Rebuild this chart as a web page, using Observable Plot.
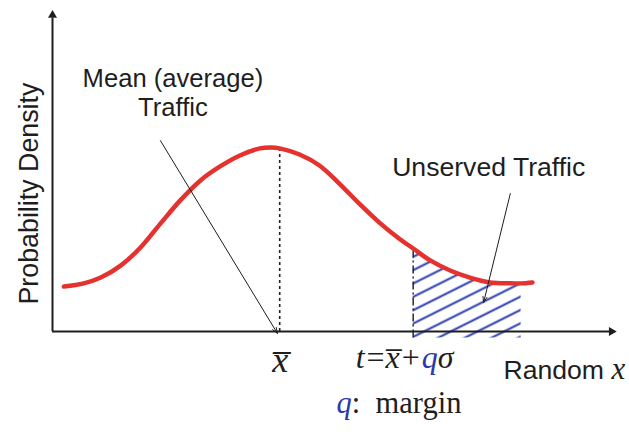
<!DOCTYPE html>
<html>
<head>
<meta charset="utf-8">
<script src="https://cdn.jsdelivr.net/npm/d3@7"></script>
<script src="https://cdn.jsdelivr.net/npm/@observablehq/plot@0.6"></script>
<style>
  body { margin: 0; background: #fff; }
  #chart svg { display: block; }
</style>
</head>
<body>
<div id="chart"></div>
<script>
// Density curve samples (arbitrary units: x along the random variable, y = density)
const curveX = [2, 5.5, 8.5, 12, 15.5, 19, 22.5, 26, 29.5, 33, 36.5, 38.5, 40, 43.5, 47, 50.5, 54, 57.5, 61, 63.5, 66.5, 70, 73.5, 77, 80.5, 82.5, 84.5];
const curveY = [13.9, 14.9, 16.7, 20.4, 26.0, 33.4, 40.6, 46.7, 51.1, 54.5, 56.7, 57.0, 56.7, 54.8, 51.4, 45.8, 39.6, 33.8, 28.8, 25.7, 22.0, 18.9, 16.7, 15.2, 14.9, 14.9, 15.2];

// Key positions on the x axis
const meanX = 40;        // x̄
const thresholdX = 63.5; // t = x̄ + qσ
const tailEndX = 82.5;   // end of the shaded tail
const tailFloor = -2;    // hatching runs just under the axis

// Axis extents
const axisEndX = 99.6;
const axisEndY = 100;

const curve = curveX.map((x, i) => ({x, y: curveY[i]}));
const yAt = (x) => curve.find(d => d.x === x).y;
const tail = curve.filter(d => d.x >= thresholdX && d.x <= tailEndX);

const INK = "#1e1e1e";
const RED = "#e6322f";
const BLUE = "#2a3aae";
const SANS = "'Liberation Sans', Arial, Helvetica, sans-serif";
const SERIF = "'Liberation Serif', 'Times New Roman', serif";

const FORMULA = "t=x\u0305+q\u03c3";

// Diagonal hatch pattern for the unserved tail
function hatchDefs() {
  const defs = d3.create("svg:defs");
  const p = defs.append("pattern")
    .attr("id", "hatch")
    .attr("patternUnits", "userSpaceOnUse")
    .attr("width", 12)
    .attr("height", 11.94)
    .attr("patternTransform", "rotate(-26.565)");
  p.append("line")
    .attr("x1", -1).attr("x2", 13)
    .attr("y1", 8.5).attr("y2", 8.5)
    .attr("stroke", BLUE)
    .attr("stroke-width", 2);
  return defs.node();
}

const chart = Plot.plot({
  width: 629,
  height: 438,
  marginLeft: 52,
  marginRight: 9,
  marginTop: 8,
  marginBottom: 107,
  x: {domain: [0, 100], axis: null},
  y: {domain: [0, 100], axis: null},
  style: {background: "#fff", overflow: "visible"},
  marks: [
    hatchDefs,
    // shaded tail (unserved traffic)
    Plot.areaY(tail, {x: "x", y1: tailFloor, y2: "y", fill: "url(#hatch)", curve: "catmull-rom"}),
    // axes with arrowheads
    Plot.ruleX([0], {y1: 0, y2: axisEndY - 3, stroke: INK, strokeWidth: 2}),
    Plot.ruleY([0], {x1: 0, x2: axisEndX - 1.5, stroke: INK, strokeWidth: 2}),
    Plot.dot([0], {x: 0, y: axisEndY, symbol: "triangle2", r: 4.3, fill: INK, dy: 6.7}),
    Plot.dot([0], {x: axisEndX, y: 0, symbol: "triangle2", r: 4.3, fill: INK, rotate: 90, dx: -6.7}),
    // mean: dotted drop line
    Plot.ruleX([meanX], {y1: 0, y2: yAt(meanX), stroke: INK, strokeWidth: 1.6, strokeDasharray: "3,3"}),
    // threshold: dash-dot line
    Plot.ruleX([thresholdX], {y1: tailFloor, y2: yAt(thresholdX), stroke: INK, strokeWidth: 1.4, strokeDasharray: "8,3,2,3"}),
    // density curve
    Plot.line(curve, {x: "x", y: "y", stroke: RED, strokeWidth: 4.5, curve: "catmull-rom"}),
    // pointer arrows
    Plot.arrow([0], {x1: 19.0, y1: 59.1, x2: meanX - 0.4, y2: -0.6, stroke: INK, strokeWidth: 1, headLength: 9, headAngle: 40}),
    Plot.arrow([0], {x1: 80.6, y1: 42.7, x2: 75.9, y2: 9.0, stroke: INK, strokeWidth: 1, headLength: 9, headAngle: 40}),
    // labels
    Plot.text(["Mean (average)"], {x: 21.2, y: 78.3, fontSize: 25.6, fontFamily: SANS, fill: INK}),
    Plot.text(["Traffic"], {x: 21.2, y: 69.3, fontSize: 25.6, fontFamily: SANS, fill: INK}),
    Plot.text(["Unserved Traffic"], {x: 76.8, y: 50.8, fontSize: 26.6, fontFamily: SANS, fill: INK}),
    Plot.text(["Probability Density"], {x: -4.1, y: 42.7, rotate: -90, fontSize: 26.8, fontFamily: SANS, fill: INK}),
    Plot.text(["x\u0305"], {x: meanX + 0.1, y: -9.1, fontSize: 36, fontFamily: SERIF, fontStyle: "italic", fill: INK}),
    Plot.text([FORMULA], {x: 62.0, y: -8.0, fontSize: 32, fontFamily: SERIF, fill: INK}),
    Plot.text(["Random x"], {x: 79.4, y: -12.0, textAnchor: "start", fontSize: 26.6, fontFamily: SANS, fill: INK}),
    Plot.text(["q:  margin"], {x: 61.0, y: -22.3, fontSize: 30.5, fontFamily: SERIF, fill: INK})
  ]
});

// Mixed styling inside a label: split the text into styled runs
function setRuns(svg, whole, runs) {
  const node = Array.from(svg.querySelectorAll("text")).find(n => n.textContent === whole);
  if (!node) return;
  node.setAttribute("xml:space", "preserve");
  node.style.whiteSpace = "pre";
  while (node.firstChild) node.removeChild(node.firstChild);
  for (const r of runs) {
    const ts = document.createElementNS("http://www.w3.org/2000/svg", "tspan");
    ts.textContent = r.text;
    if (r.italic) ts.setAttribute("font-style", "italic");
    if (r.fill) ts.setAttribute("fill", r.fill);
    if (r.family) ts.setAttribute("font-family", r.family);
    if (r.size) ts.setAttribute("font-size", r.size);
    if (r.dx) ts.setAttribute("dx", r.dx);
    node.appendChild(ts);
  }
}

setRuns(chart, FORMULA, [
  {text: "t", italic: true},
  {text: "=", dx: 2},
  {text: "x\u0305", italic: true, dx: 1},
  {text: "+", dx: 2},
  {text: "q", italic: true, fill: BLUE, dx: 2},
  {text: "\u03c3", italic: true}
]);
setRuns(chart, "Random x", [
  {text: "Random "},
  {text: "x", italic: true, family: SERIF, size: 31}
]);
setRuns(chart, "q:  margin", [
  {text: "q", italic: true, fill: BLUE},
  {text: ":  margin"}
]);

document.getElementById("chart").appendChild(chart);
</script>
</body>
</html>
